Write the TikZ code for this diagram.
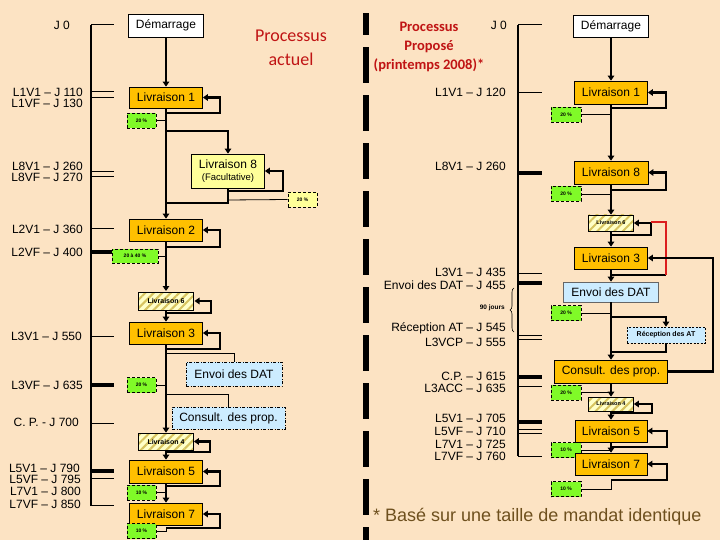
\documentclass[tikz,border=0pt]{standalone}
\usepackage{fontspec}
\setmainfont{Liberation Sans}
\newfontfamily\calib{Carlito}
\usetikzlibrary{arrows.meta,patterns.meta,decorations.pathreplacing}
\definecolor{bgc}{RGB}{252,227,195}
\definecolor{orangeL}{RGB}{255,192,0}
\definecolor{yelL}{RGB}{255,255,153}
\definecolor{greenL}{RGB}{128,250,40}
\definecolor{blueL}{RGB}{204,236,255}
\definecolor{hatchbg}{RGB}{255,255,200}
\definecolor{hatchC}{RGB}{215,195,95}
\definecolor{titlered}{RGB}{192,20,20}
\definecolor{loopred}{RGB}{220,30,30}
\definecolor{brownT}{RGB}{110,80,30}
\begin{document}
\begin{tikzpicture}[x=1pt,y=-1pt,
  box/.style={draw=black,line width=0.7pt,inner sep=0pt,font=\fontsize{12}{13}\selectfont},
  orangebox/.style={box,fill=orangeL},
  whitebox/.style={box,fill=white},
  yelbox/.style={box,fill=yelL},
  bluebox/.style={box,fill=blueL,dash pattern=on 3pt off 1.5pt on 1pt off 1.5pt},
  pct/.style={draw=black,line width=0.8pt,dash pattern=on 3pt off 2pt,fill=greenL,inner sep=0pt,minimum width=29pt,minimum height=15pt,font=\fontsize{5}{6}\selectfont\bfseries},
  hatchbox/.style={draw=black,line width=0.7pt,inner sep=0pt,preaction={fill=hatchbg},pattern={Lines[angle=45,distance=6pt,line width=2pt]},pattern color=hatchC,font=\fontsize{7}{8}\selectfont\bfseries},
  flow/.style={line width=2.2pt},
  arr/.style={line width=2.2pt,-{Triangle[length=5pt,width=6.5pt]}},
  thinl/.style={line width=0.8pt},
  tl/.style={line width=1.6pt},
  tickl/.style={line width=1pt},
  bigtick/.style={line width=4pt},
  lab/.style={font=\fontsize{12}{12}\selectfont,inner sep=0pt,anchor=east}
]
\useasboundingbox (0,0) rectangle (720,540);
\fill[bgc] (0,0) rectangle (720,540);

% ---------- centre dashed separator ----------
\fill (363,13) rectangle (369,35);
\foreach \k in {0,...,9} \fill (363,47+48*\k) rectangle (369,83+48*\k);
\fill (363,527) rectangle (369,540);

% ---------- titles ----------
\node[titlered,font=\calib\fontsize{18}{24}\selectfont,align=center] (t1) at (291,48) {Processus\\actuel};
\node[titlered,font=\calib\bfseries\fontsize{14.5}{19}\selectfont,align=center] (t2) at (429,47) {Processus\\Proposé\\(printemps 2008)*};
\node[brownT,font=\fontsize{18}{20}\selectfont,anchor=west,inner sep=0pt] (foot) at (373,517) {* Basé sur une taille de mandat identique};

% ---------- left timeline ----------
\draw[tl] (91,25) -- (91,505.5);
\foreach \y in {25,92,98,172,177,229,336,423,478,505.5} \draw[tickl] (91,\y) -- (114,\y);
\foreach \y in {252,385,471} \draw[bigtick] (91,\y) -- (114,\y);
\node[lab] (lj0) at (70,25) {J 0};
\node[lab] (la1) at (83,92) {L1V1 – J 110};
\node[lab] (la2) at (83,103) {L1VF – J 130};
\node[lab] (la3) at (83,166) {L8V1 – J 260};
\node[lab] (la4) at (83,177) {L8VF – J 270};
\node[lab] (la5) at (83,229) {L2V1 – J 360};
\node[lab] (la6) at (83,252) {L2VF – J 400};
\node[lab] (la7) at (82,336) {L3V1 – J 550};
\node[lab] (la8) at (83,385) {L3VF – J 635};
\node[lab] (la9) at (79,422) {C. P. - J 700};
\node[lab] (la10) at (80,468) {L5V1 – J 790};
\node[lab] (la11) at (81,479) {L5VF – J 795};
\node[lab] (la12) at (81,491) {L7V1 – J 800};
\node[lab] (la13) at (81,504) {L7VF – J 850};

% ---------- left flow ----------
\node[whitebox,minimum width=75pt,minimum height=23pt] (dem1) at (166,25.5) {Démarrage};
\node[orangebox,minimum width=73pt,minimum height=21pt] (l1L) at (166,97.5) {Livraison 1};
\node[pct] (p1L) at (141.5,120.5) {20 \%};
\node[yelbox,minimum width=73pt,minimum height=34pt,align=center] (l8L) at (228,171) {Livraison 8\\[-1pt]{\fontsize{9.5}{10}\selectfont(Facultative)}};
\node[pct,fill=yelL] (p8L) at (302.5,199.5) {20 \%};
\node[orangebox,minimum width=73pt,minimum height=22pt] (l2L) at (166,230) {Livraison 2};
\node[pct,minimum width=46pt,minimum height=14pt] (p2L) at (135,256) {20 à 40 \%};
\node[hatchbox,minimum width=55pt,minimum height=18pt] (l6L) at (166,301) {Livraison 6};
\node[orangebox,minimum width=73pt,minimum height=22pt] (l3L) at (166,333) {Livraison 3};
\node[bluebox,minimum width=96pt,minimum height=24pt] (datL) at (234,374) {Envoi des DAT};
\node[pct] (p3L) at (141.5,385) {20 \%};
\node[bluebox,minimum width=113pt,minimum height=22pt] (cpL) at (228.5,418) {Consult. des prop.};
\node[hatchbox,minimum width=55pt,minimum height=17pt] (l4L) at (166,441.5) {Livraison 4};
\node[orangebox,minimum width=73pt,minimum height=23pt] (l5L) at (166,471.5) {Livraison 5};
\node[pct] (p5L) at (141.5,492.5) {10 \%};
\node[orangebox,minimum width=73pt,minimum height=22pt] (l7L) at (166,514) {Livraison 7};
\node[pct] (p7L) at (141.5,531) {10 \%};

\draw[arr] (dem1) -- (l1L);
\draw[arr] (166,113) -- (220,113) -- (220,97.5) -- (l1L.east);
\draw[thinl] (p1L.east) -- (166,120.5);
\draw[arr] (l1L) -- (l2L);
\draw[arr] (166,131) -| (l8L.north);
\draw[arr] (228,191) -- (283,191) -- (283,171) -- (l8L.east);
\draw[flow] (l8L.south) -- (228,203) -- (166,203);
\draw[thinl] (228,200) -- (p8L.west);
\draw[arr] (166,247) -- (220,247) -- (220,230) -- (l2L.east);
\draw[thinl] (p2L.east) -- (166,256);
\draw[arr] (l2L) -- (l6L);
\draw[arr] (166,313) -- (211,313) -- (211,301) -- (l6L.east);
\draw[arr] (l6L) -- (l3L);
\draw[arr] (166,349) -- (220,349) -- (220,333) -- (l3L.east);
\draw[thinl] (166,353) -| (datL.north);
\draw[thinl] (p3L.east) -- (166,385);
\draw[thinl] (166,394) -| (cpL.north);
\draw[arr] (l3L) -- (l4L);
\draw[arr] (166,452) -- (210,452) -- (210,441.5) -- (l4L.east);
\draw[arr] (l4L) -- (l5L);
\draw[arr] (166,486) -- (220,486) -- (220,471.5) -- (l5L.east);
\draw[thinl] (p5L.east) -- (166,492.5);
\draw[arr] (l5L) -- (l7L);
\draw[arr] (166,528) -- (220,528) -- (220,514) -- (l7L.east);
\draw[thinl] (p7L.east) -| (166,528);

% ---------- right timeline ----------
\draw[tl] (518,25) -- (518,456);
\foreach \y in {25,93,273,335,339,386,429,433,456} \draw[tickl] (518,\y) -- (542,\y);
\foreach \y in {173,283,377,422} \draw[bigtick] (518,\y) -- (542,\y);
\node[lab] (rj0) at (507,25) {J 0};
\node[lab] (ra1) at (506,92) {L1V1 – J 120};
\node[lab] (ra2) at (506,166) {L8V1 – J 260};
\node[lab] (ra3) at (506,272) {L3V1 – J 435};
\node[lab] (ra4) at (506,285) {Envoi des DAT – J 455};
\node[lab,font=\fontsize{6.5}{7}\selectfont\bfseries] (r90) at (505,308) {90 jours};
\draw[line width=0.6pt,decorate,decoration={brace,amplitude=4pt}] (514,332) -- (514,288);
\node[lab] (ra5) at (506,328) {Réception AT – J 545};
\node[lab] (ra6) at (506,342) {L3VCP – J 555};
\node[lab] (ra7) at (506,376) {C.P. – J 615};
\node[lab] (ra8) at (506,388) {L3ACC – J 635};
\node[lab] (ra9) at (506,418) {L5V1 – J 705};
\node[lab] (ra10) at (506,431) {L5VF – J 710};
\node[lab] (ra11) at (506,444) {L7V1 – J 725};
\node[lab] (ra12) at (506,456) {L7VF – J 760};

% ---------- right flow ----------
\node[whitebox,minimum width=75pt,minimum height=22pt] (dem2) at (611,26) {Démarrage};
\node[orangebox,minimum width=73pt,minimum height=23pt] (l1R) at (611,92.5) {Livraison 1};
\node[pct,minimum width=30pt] (p1R) at (566,114.5) {20 \%};
\node[orangebox,minimum width=74pt,minimum height=23pt] (l8R) at (611,172.5) {Livraison 8};
\node[pct,minimum width=30pt] (p8R) at (566,194) {20 \%};
\node[hatchbox,minimum width=45pt,minimum height=16pt,font=\fontsize{5.5}{6}\selectfont\bfseries] (l6R) at (611,223) {Livraison 6};
\node[orangebox,minimum width=73pt,minimum height=22pt] (l3R) at (611,258) {Livraison 3};
\node[box,fill=blueL,draw=black!60,minimum width=95pt,minimum height=20pt] (datR) at (611,292) {Envoi des DAT};
\node[pct,minimum width=30pt] (p3R) at (566,313) {20 \%};
\node[box,fill=blueL,dash pattern=on 2pt off 1.5pt,minimum width=78pt,minimum height=16pt,font=\fontsize{7}{8}\selectfont\bfseries] (recR) at (666,335) {Réception des AT};
\node[orangebox,minimum width=113pt,minimum height=23pt] (cpR) at (611,371.5) {Consult. des prop.};
\node[pct,minimum width=30pt] (p4R) at (566,392.5) {20 \%};
\node[hatchbox,minimum width=45pt,minimum height=14pt,font=\fontsize{5.5}{6}\selectfont\bfseries] (l4R) at (611,404) {Livraison 4};
\node[orangebox,minimum width=72pt,minimum height=22pt] (l5R) at (611,431) {Livraison 5};
\node[pct,minimum width=30pt] (p5R) at (566,450) {10 \%};
\node[orangebox,minimum width=72pt,minimum height=22pt] (l7R) at (611,464) {Livraison 7};
\node[pct,minimum width=30pt] (p7R) at (566,489) {10 \%};

\draw[arr] (dem2) -- (l1R);
\draw[arr] (611,108) -- (666,108) -- (666,92.5) -- (l1R.east);
\draw[thinl] (p1R.east) -- (611,114.5);
\draw[arr] (l1R) -- (l8R);
\draw[arr] (611,190) -- (666,190) -- (666,172.5) -- (l8R.east);
\draw[thinl] (p8R.east) -- (611,194);
\draw[arr] (l8R) -- (l6R);
\draw[arr] (611,235) -- (651,235) -- (651,223) -- (l6R.east);
\draw[arr] (l6R) -- (l3R);
\draw[flow] (611,275) -- (666,275);
\draw[loopred,line width=2pt] (666,275) -- (666,222) -- (651,222);
\draw[arr] (l3R) -- (datR);
\draw[arr] (cpR.east) -- (713,371.5) -- (713,258) -- (l3R.east);
\draw[arr] (datR) -- (cpR);
\draw[thinl] (p3R.east) -- (611,313);
\draw[arr] (611,317) -| (recR.north);
\draw[flow] (recR.south) |- (611,352);
\draw[arr] (cpR) -- (l4R);
\draw[thinl] (p4R.east) -- (611,392.5);
\draw[arr] (611,413) -- (652,413) -- (652,404) -- (l4R.east);
\draw[arr] (l4R) -- (l5R);
\draw[arr] (611,447) -- (667,447) -- (667,431) -- (l5R.east);
\draw[thinl] (p5R.east) -- (611,450);
\draw[arr] (l5R) -- (l7R);
\draw[arr] (611,480) -- (667,480) -- (667,464) -- (l7R.east);
\draw[thinl] (p7R.east) -| (611,480);
\end{tikzpicture}
\end{document}
